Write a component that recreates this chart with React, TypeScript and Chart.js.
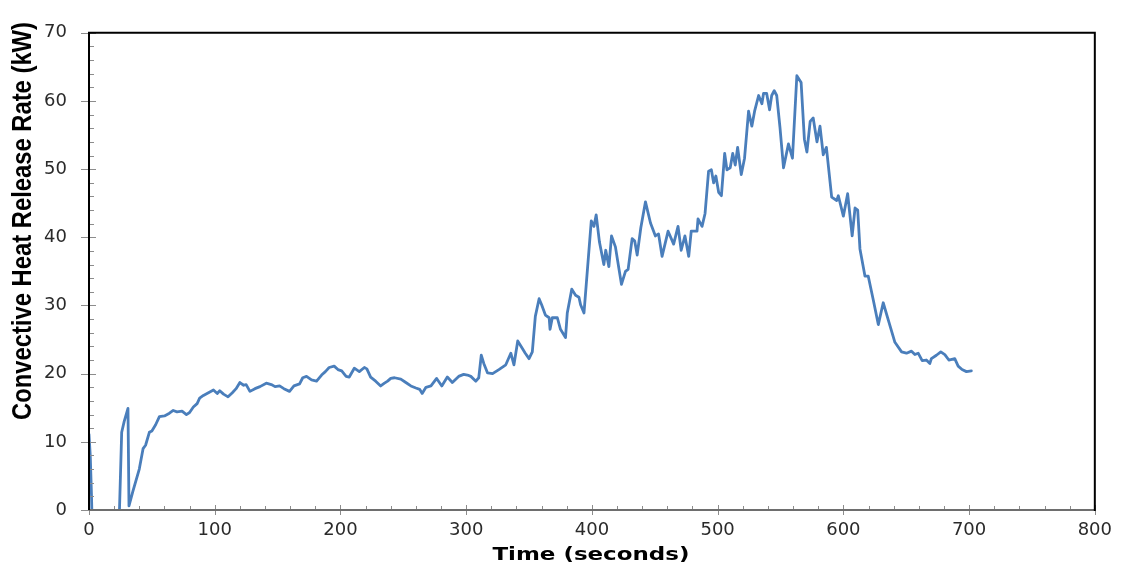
import React, { useEffect, useRef } from 'react';
import { Chart, registerables } from 'chart.js';

Chart.register(...registerables);

// Time (s) and convective HRR (kW)
const timeSeconds: number[] = [
  0, 1, 2, 3, 23, 26, 28, 31, 31.8, 35,
  40, 43, 45, 48, 50, 53, 56, 60, 64, 67,
  70, 74, 77.5, 80, 83, 86, 88, 91, 95, 99,
  102, 104, 107, 110.6, 114, 117, 120, 123, 125, 128,
  132, 136, 141, 145, 148, 151.6, 155, 159.5, 163, 167.5,
  170, 173, 177, 181, 185, 188, 191, 195, 198, 201,
  204.5, 207, 211, 215, 219, 221, 224, 228, 232, 235,
  237.5, 240, 243, 248, 252, 256, 260, 263, 265, 268,
  272, 276.5, 280.6, 285, 289, 294, 298, 301, 303.7, 307.7,
  310, 312, 314, 317, 321, 326, 331.5, 335.5, 338, 341,
  344.7, 347, 350, 352.6, 355, 358, 360, 363, 366, 366.7,
  368.5, 372.5, 375, 379, 380.4, 384, 387, 389.7, 391, 393.7,
  395.5, 399.5, 401.6, 403.4, 406, 409.5, 411, 413.5, 415.6, 418.7,
  421.4, 423.5, 426.7, 428.8, 432, 434, 436, 438.9, 442.6, 446.6,
  450.5, 453, 455.8, 460.6, 465, 468.5, 471, 474, 477, 479,
  483.6, 484.4, 487.6, 490, 492.8, 495, 496.8, 498.6, 500.8, 503,
  505.6, 507.4, 510, 512, 514, 515.9, 518.8, 521.4, 524.6, 527.2,
  529.4, 532.6, 535.2, 536.5, 539, 541.3, 543, 545, 547, 549.6,
  552.4, 556.3, 559.5, 563, 566.4, 569, 571, 573.6, 576, 579,
  581.4, 584, 586.5, 590.7, 594.7, 596, 600, 603.4, 607, 609.3,
  611.4, 613.2, 617.2, 619.8, 623.8, 627.8, 631.7, 635.7, 641, 646.3,
  650.2, 654.2, 656.9, 659.5, 662.7, 666, 668.8, 670, 674, 677.5,
  680.7, 683.9, 688.6, 691.3, 694.4, 697.9, 701.8,
];

const hrrKW: number[] = [
  11.1, 8, 2, -6, -8, 11.4, 13, 14.9, 0.6, 2.8,
  6, 9, 9.5, 11.4, 11.6, 12.5, 13.7, 13.8, 14.2, 14.6,
  14.4, 14.5, 14.0, 14.3, 15.1, 15.6, 16.4, 16.8, 17.2, 17.6,
  17.1, 17.5, 17.0, 16.6, 17.2, 17.8, 18.7, 18.3, 18.4, 17.4,
  17.8, 18.1, 18.6, 18.4, 18.1, 18.2, 17.8, 17.4, 18.2, 18.5,
  19.4, 19.6, 19.1, 18.9, 19.8, 20.3, 20.9, 21.1, 20.6, 20.4,
  19.6, 19.5, 20.8, 20.3, 20.9, 20.7, 19.5, 18.9, 18.2, 18.6,
  18.9, 19.3, 19.4, 19.2, 18.7, 18.2, 17.9, 17.7, 17.1, 18.0,
  18.2, 19.3, 18.2, 19.5, 18.7, 19.6, 19.9, 19.8, 19.6, 18.9,
  19.4, 22.7, 21.5, 20.1, 20.0, 20.6, 21.3, 23.0, 21.3, 24.8,
  23.7, 23.0, 22.2, 23.2, 28.4, 31.0, 30.1, 28.6, 28.2, 26.5,
  28.2, 28.2, 26.5, 25.3, 28.9, 32.4, 31.5, 31.2, 30.1, 28.9,
  33.1, 42.4, 41.6, 43.3, 39.3, 36.0, 38.1, 35.7, 40.2, 38.6,
  35.5, 33.1, 35.0, 35.3, 39.8, 39.5, 37.4, 41.4, 45.2, 42.1,
  40.2, 40.5, 37.2, 40.9, 39.0, 41.6, 38.1, 40.2, 37.2, 40.9,
  40.9, 42.7, 41.6, 43.5, 49.7, 49.9, 48.0, 49.0, 46.6, 46.1,
  52.3, 49.9, 50.2, 52.3, 50.6, 53.2, 49.2, 51.6, 58.5, 56.3,
  58.5, 60.8, 59.6, 61.1, 61.1, 58.7, 60.8, 61.5, 60.8, 56.1,
  50.2, 53.7, 51.6, 63.7, 62.7, 54.4, 52.5, 57.0, 57.5, 54.0,
  56.3, 52.1, 53.2, 45.9, 45.4, 46.1, 43.1, 46.4, 40.2, 44.3,
  44.0, 38.3, 34.3, 34.3, 30.8, 27.2, 30.4, 27.9, 24.6, 23.2,
  23.0, 23.3, 22.8, 23.0, 21.9, 22.0, 21.5, 22.2, 22.7, 23.2,
  22.8, 22.0, 22.2, 21.1, 20.6, 20.3, 20.4,
];

const xTicks: number[] = [0, 100, 200, 300, 400, 500, 600, 700, 800];
const yTicks: number[] = [0, 10, 20, 30, 40, 50, 60, 70];
const xMinorStep = 20;
const yMinorStep = 2;

const xTitle = 'Time (seconds)';
const yTitle = 'Convective Heat Release Rate (kW)';

const framePlugin = {
  id: 'frame',
  afterDatasetsDraw(chart: any) {
    const { ctx, chartArea } = chart;
    const { left, right, top, bottom } = chartArea;
    const xs = chart.scales.x;
    const ys = chart.scales.y;
    ctx.save();

    // minor ticks (inside)
    ctx.strokeStyle = '#8c8c8c';
    ctx.lineWidth = 1;
    ctx.beginPath();
    for (let v = xTicks[0]; v <= xTicks[xTicks.length - 1]; v += xMinorStep) {
      if (xTicks.includes(v)) continue;
      const px = Math.round(xs.getPixelForValue(v)) + 0.5;
      ctx.moveTo(px, bottom);
      ctx.lineTo(px, bottom - 4);
    }
    for (let v = yTicks[0]; v <= yTicks[yTicks.length - 1]; v += yMinorStep) {
      if (yTicks.includes(v)) continue;
      const py = Math.round(ys.getPixelForValue(v)) + 0.5;
      ctx.moveTo(left, py);
      ctx.lineTo(left + 5, py);
    }
    ctx.stroke();

    // major ticks (crossing)
    ctx.strokeStyle = '#8c8c8c';
    ctx.beginPath();
    xTicks.forEach((v) => {
      const px = Math.round(xs.getPixelForValue(v)) + 0.5;
      ctx.moveTo(px, bottom - 5);
      ctx.lineTo(px, bottom + 5);
    });
    yTicks.forEach((v) => {
      const py = Math.round(ys.getPixelForValue(v)) + 0.5;
      ctx.moveTo(left - 8, py);
      ctx.lineTo(left + 7, py);
    });
    ctx.stroke();

    // frame
    ctx.lineWidth = 2;
    ctx.strokeStyle = '#6e6e6e';
    ctx.beginPath();
    ctx.moveTo(left, bottom);
    ctx.lineTo(right, bottom);
    ctx.stroke();
    ctx.strokeStyle = '#000';
    ctx.beginPath();
    ctx.moveTo(left, bottom);
    ctx.lineTo(left, top);
    ctx.lineTo(right, top);
    ctx.lineTo(right, bottom + 1);
    ctx.stroke();

    // axis titles
    ctx.fillStyle = '#000';
    ctx.textAlign = 'center';
    ctx.textBaseline = 'alphabetic';
    ctx.font = 'bold 18px "DejaVu Sans", sans-serif';
    const wx = ctx.measureText(xTitle).width;
    ctx.save();
    ctx.translate((left + right) / 2 - 1, 560);
    ctx.scale(197 / wx, 1);
    ctx.fillText(xTitle, 0, 0);
    ctx.restore();

    ctx.font = 'bold 24px "Liberation Sans", Arial, sans-serif';
    const wy = ctx.measureText(yTitle).width;
    ctx.save();
    ctx.translate(31, 221);
    ctx.rotate(-Math.PI / 2);
    ctx.scale(398 / wy, 1.16);
    ctx.fillText(yTitle, 0, 0);
    ctx.restore();

    ctx.restore();
  },
};

export default function App() {
  const canvasRef = useRef<HTMLCanvasElement | null>(null);

  useEffect(() => {
    if (!canvasRef.current) return;
    const points = timeSeconds.map((t, i) => ({ x: t, y: hrrKW[i] }));
    const chart = new Chart(canvasRef.current, {
      type: 'line',
      data: {
        datasets: [
          {
            data: points,
            borderColor: '#4a7ebb',
            borderWidth: 2.8,
            pointRadius: 0,
            tension: 0,
            fill: false,
            borderJoinStyle: 'round',
            borderCapStyle: 'round',
          },
        ],
      },
      options: {
        animation: false,
        responsive: false,
        devicePixelRatio: 1,
        layout: { padding: { top: 17, right: 25, left: 0, bottom: 0 } },
        plugins: { legend: { display: false }, tooltip: { enabled: false } },
        scales: {
          x: {
            type: 'linear',
            min: 0,
            max: 800,
            afterBuildTicks: (s: any) => {
              s.ticks = xTicks.map((v) => ({ value: v }));
            },
            afterFit: (s: any) => {
              s.height = 57;
            },
            grid: { display: false, drawTicks: false },
            border: { display: false },
            ticks: {
              padding: 10,
              color: '#2a2a2a',
              font: { family: '"DejaVu Sans", sans-serif', size: 18 },
              maxRotation: 0,
            },
          },
          y: {
            type: 'linear',
            min: 0,
            max: 70,
            afterBuildTicks: (s: any) => {
              s.ticks = yTicks.map((v) => ({ value: v }));
            },
            afterFit: (s: any) => {
              s.width = 89;
            },
            grid: { display: false, drawTicks: false },
            border: { display: false },
            ticks: {
              padding: 22,
              color: '#2a2a2a',
              font: { family: '"DejaVu Sans", sans-serif', size: 18 },
            },
          },
        },
      },
      plugins: [framePlugin],
    });
    return () => chart.destroy();
  }, []);

  return (
    <div style={{ position: 'fixed', left: 0, top: 0, width: 1122, height: 567, background: '#fff' }}>
      <canvas ref={canvasRef} width={1122} height={567} style={{ display: 'block' }} />
    </div>
  );
}
